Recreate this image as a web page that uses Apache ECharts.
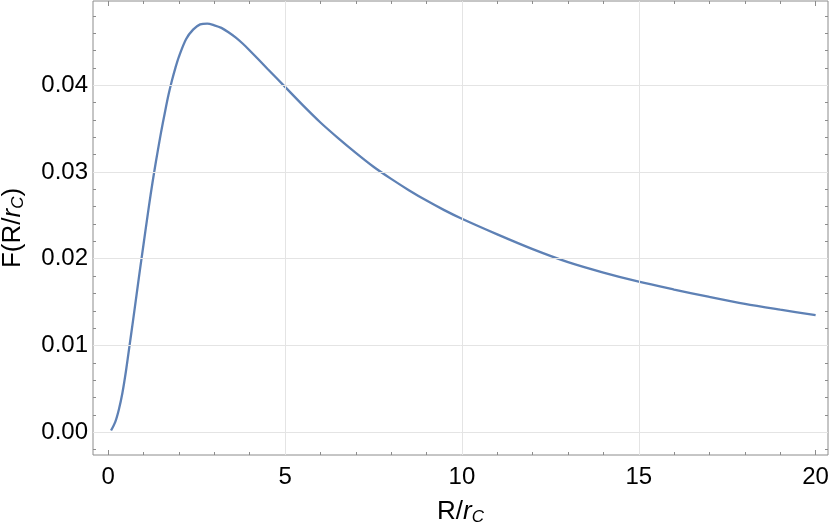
<!DOCTYPE html>
<html>
<head>
<meta charset="utf-8">
<script src="https://cdn.jsdelivr.net/npm/echarts@6/dist/echarts.min.js"></script>
<style>html,body{margin:0;padding:0;background:#fff}#c{width:830px;height:528px}</style>
</head>
<body>
<div id="c"></div>
<script>
// Curve values
const xVals = [0.08,0.2,0.3,0.4,0.5,0.6,0.7,0.8,0.9,1.0,1.1,1.2,1.3,1.4,1.5,1.6,1.7,1.8,1.9,2.0,2.2,2.4,2.6,2.8,3.0,3.2,3.4,3.6,3.8,4.0,4.5,5.0,5.5,6.0,6.5,7.0,7.5,8.0,8.5,9.0,9.5,10,11,12,13,14,15,16,17,18,19,20];
const fVals = [0.0002,0.0012,0.0026,0.0045,0.0070,0.0099,0.0128,0.0158,0.0188,0.0217,0.0246,0.0274,0.0300,0.0324,0.0347,0.0368,0.0388,0.0405,0.0420,0.0433,0.0453,0.0464,0.0470,0.0471,0.0469,0.0466,0.0461,0.0455,0.0448,0.0440,0.0419,0.0398,0.0377,0.0357,0.0339,0.0322,0.0306,0.0292,0.0279,0.0267,0.0256,0.0246,0.0228,0.0211,0.0196,0.0184,0.01735,0.01645,0.0156,0.0148,0.01413,0.0135];
const xMajor = [0,5,10,15,20];
const xMinor = [1,2,3,4,6,7,8,9,11,12,13,14,16,17,18,19];
const yMajor = [0,0.01,0.02,0.03,0.04];
const yMinor = [-0.002,0.002,0.004,0.006,0.008,0.012,0.014,0.016,0.018,0.022,0.024,0.026,0.028,0.032,0.034,0.036,0.038,0.042,0.044,0.046,0.048];
const xGrid = [5,10,15];
const yGrid = [0,0.01,0.02,0.03,0.04];

const X_MIN = -0.43, X_MAX = 20.35, Y_MIN = -0.00262, Y_MAX = 0.0497;
const FONT = 'Liberation Sans, Arial, sans-serif';
const tickColor = '#8c8c8c';
const LBL = 24, TTL = 26, SUB = 17;

function xAx(pos, vals, len, labels) {
  return {
    type: 'value', position: pos, min: X_MIN, max: X_MAX,
    axisLine: { show: false, onZero: false },
    splitLine: { show: false },
    axisTick: { show: true, inside: true, length: len, customValues: vals, lineStyle: { color: tickColor, width: 1 } },
    axisLabel: labels ? { show: true, customValues: vals, color: '#000', fontSize: LBL, fontFamily: FONT, margin: 10 } : { show: false }
  };
}
function yAx(pos, vals, len, labels) {
  return {
    type: 'value', position: pos, min: Y_MIN, max: Y_MAX,
    axisLine: { show: false, onZero: false },
    splitLine: { show: false },
    axisTick: { show: true, inside: true, length: len, customValues: vals, lineStyle: { color: tickColor, width: 1 } },
    axisLabel: labels ? { show: true, customValues: vals, color: '#000', fontSize: LBL, fontFamily: FONT, margin: 5,
      formatter: v => v.toFixed(2) } : { show: false }
  };
}

const xAxes = [xAx('bottom', xMajor, 5, true), xAx('bottom', xMinor, 3, false), xAx('top', xMajor, 5, false), xAx('top', xMinor, 3, false)];
const yAxes = [yAx('left', yMajor, 5, true), yAx('left', yMinor, 3, false), yAx('right', yMajor, 5, false), yAx('right', yMinor, 3, false)];

const titleStyle = { color: '#000', fontSize: TTL, fontFamily: FONT,
  rich: { i: { fontSize: TTL, fontStyle: 'italic', fontFamily: FONT, color: '#000' },
          sub: { fontSize: SUB, fontStyle: 'italic', fontFamily: FONT, color: '#000', verticalAlign: 'bottom', padding: [12,0,0,0] } } };
xAxes[0].name = 'R/{i|r}{sub|C}';
xAxes[0].nameLocation = 'middle';
xAxes[0].nameGap = 42;
xAxes[0].nameTextStyle = titleStyle;
yAxes[0].name = 'F(R/{i|r}{sub|C})';
yAxes[0].nameLocation = 'middle';
yAxes[0].nameRotate = 90;
yAxes[0].nameGap = 66;
yAxes[0].nameTextStyle = titleStyle;

const chart = echarts.init(document.getElementById('c'), null, { renderer: 'canvas' });
chart.setOption({
  animation: false,
  backgroundColor: '#fff',
  grid: { left: 93, right: 2, top: 1, bottom: 73, containLabel: false, outerBoundsMode: 'none',
          show: true, borderColor: '#8c8c8c', borderWidth: 1, backgroundColor: 'transparent' },
  xAxis: xAxes,
  yAxis: yAxes,
  series: [
    {
      type: 'line', z: 1, data: [[X_MIN, Y_MIN]], showSymbol: false, symbol: 'none',
      lineStyle: { opacity: 0 }, silent: true,
      markLine: {
        silent: true, symbol: ['none', 'none'], animation: false,
        label: { show: false },
        lineStyle: { color: '#e4e4e4', width: 1, type: 'solid' },
        emphasis: { disabled: true },
        data: xGrid.map(v => ({ xAxis: v })).concat(yGrid.map(v => ({ yAxis: v })))
      }
    },
    {
      type: 'line', z: 3, data: xVals.map((x, i) => [x, fVals[i]]),
      showSymbol: false, symbol: 'none', smooth: 0.3,
      lineStyle: { color: '#5E81B5', width: 2.3 }
    }
  ]
});
</script>
</body>
</html>
